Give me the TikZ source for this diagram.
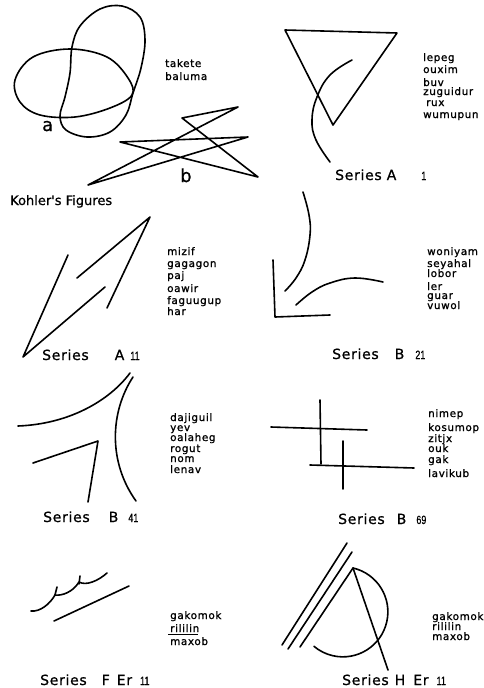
\documentclass[tikz,border=0pt]{standalone}
\usepackage{fontspec}
\setmainfont{DejaVu Sans}
\newfontfamily\gothic{DejaVu Sans}[LetterSpace=5, FakeBold=0.8]
\newfontfamily\gothicw{DejaVu Sans}[LetterSpace=6, FakeBold=1.2]
\newfontfamily\gothicb{DejaVu Sans}[FakeBold=0.8]
\newfontfamily\numf{Liberation Sans}[FakeStretch=0.75, FakeBold=0.8]
\usetikzlibrary{positioning}
\newcommand{\wordfont}{\gothicw\fontsize{10.4}{11}\selectfont}
\newcommand{\labfont}{\gothic\fontsize{14}{16}\selectfont}
\newcommand{\numfont}{\numf\fontsize{12}{13}\selectfont}
\tikzset{
  fig/.style={line width=1.6pt, line join=round, line cap=round},
  word/.style={font=\wordfont, anchor=base west, inner sep=0pt},
  serie/.style={font=\labfont, anchor=base west, inner sep=0pt},
  letra/.style={font=\gothicb\fontsize{18}{20}\selectfont, anchor=base west, inner sep=0pt},
}

\begin{document}
\begin{tikzpicture}[x=1pt, y=-1pt]
  \useasboundingbox (0,0) rectangle (483,688);

  % Kohler: figuras a e b
  \draw[fig] plot[smooth cycle, tension=0.6] coordinates {(15,80) (33,57) (70,49) (107,57) (128,78) (132,95) (110,108) (75,117) (40,115) (20,102)};
  \draw[fig] plot[smooth cycle, tension=0.6] coordinates {(100,9) (122,6) (140,17) (145,40) (141,68) (133,93) (126,115) (110,132) (87,137) (66,130) (60,116) (65,97) (70,73) (72,47) (80,26)};
  \draw[fig] (88,185) -- (238,107) -- (182,118) -- (258,177) -- (120,142) -- (248,137) -- cycle;
  \node[letra] (ka) at (42,131) {a};
  \node[letra] (kb) at (180,182) {b};
  \node[font=\gothicb\fontsize{13}{15}\selectfont, anchor=base west, inner sep=0pt] (kohler) at (10,205) {Kohler's Figures};
  \foreach \w/\y [count=\i] in {takete/67, baluma/80}
    \node[word] (wk-\i) at (165,\y) {\w};

  % Series A 1
  \draw[fig] (285,30) -- (397,33) -- (333,125) -- cycle;
  \draw[fig] plot[smooth, tension=0.7] coordinates {(352,60) (330,75) (317,97) (312,120) (316,140) (330,162)};
  \node[serie] (sA1) at (335,180) {Series\hspace{5pt}A\hspace{25pt}{\numfont 1}};
  \foreach \w/\y [count=\i] in {lepeg/61, ouxim/73, buv/86, zuguidur/95, {\hspace{3pt}rux}/106, wumupun/118}
    \node[word] (wA1-\i) at (423,\y) {\w};

  % Series A 11
  \draw[fig] (68,255) -- (23,357) -- (105,287);
  \draw[fig] (77,278) -- (150,217) -- (107,308);
  \node[serie] (sA11) at (42,360) {Series\hspace{26pt}A\hspace{6pt}{\numfont 11}};
  \foreach \w/\y [count=\i] in {mizif/255, gagagon/267, paj/279, oawir/292, faguugup/304, har/315}
    \node[word] (wA11-\i) at (167,\y) {\w};

  % Series B 21
  \draw[fig] plot[smooth, tension=0.7] coordinates {(303,192) (309,215) (310,235) (305,260) (296,278) (285,291)};
  \draw[fig] plot[smooth, tension=0.7] coordinates {(296,305) (312,292) (330,283) (355,278) (383,282)};
  \draw[fig] (273,260) -- (275,317) -- (330,315);
  \node[serie] (sB21) at (332,359) {Series\hspace{16pt}B\hspace{11pt}{\numfont 21}};
  \foreach \w/\y [count=\i] in {woniyam/255, seyahal/267, lobor/277, ler/290, guar/299, vuwol/309}
    \node[word] (wB21-\i) at (427,\y) {\w};

  % Series B 41
  \draw[fig] (18,426) .. controls (70,424) and (110,400) .. (130,373);
  \draw[fig] (133,377) .. controls (110,412) and (108,462) .. (136,501);
  \draw[fig] (33,463) -- (98,441) -- (88,502);
  \node[serie] (sB41) at (43,522) {Series\hspace{19pt}B\hspace{10pt}{\numfont 41}};
  \foreach \w/\y [count=\i] in {dajiguil/421, yev/431, oalaheg/441, rogut/452, nom/462, lenav/473}
    \node[word] (wB41-\i) at (170,\y) {\w};

  % Series B 69
  \draw[fig] (320,400) -- (321,464);
  \draw[fig] (271,427) -- (367,430);
  \draw[fig] (343,441) -- (343,489);
  \draw[fig] (310,465) -- (414,468);
  \node[serie] (sB69) at (338,524) {Series\hspace{12pt}B\hspace{10pt}{\numfont 69}};
  \foreach \w/\y [count=\i] in {nimep/417, kosumop/431, zitjx/442, ouk/452, gak/463, lavikub/477}
    \node[word] (wB69-\i) at (428,\y) {\w};

  % Series F Er 11
  \draw[fig] (31,611) .. controls (40,612) and (50,604) .. (55,595) .. controls (62,596) and (73,592) .. (79,582) .. controls (86,586) and (98,581) .. (107,573);
  \draw[fig] (55,595) .. controls (56,591) .. (57,587);
  \draw[fig] (79,584) .. controls (79,580) .. (80,576);
  \draw[fig] (54,621) -- (129,586);
  \node[serie] (sF) at (40,685) {Series\hspace{15pt}F\hspace{7pt}Er\hspace{8pt}{\numfont 11}};
  \foreach \w/\y [count=\i] in {gakomok/619, rililin/632, maxob/645}
    \node[word] (wF-\i) at (170,\y) {\w};
  \draw[line width=0.8pt] (wF-2.base west) ++(-2,2.5) -- ++(30,0);

  % Series H Er 11
  \draw[fig] (282,645) -- (347,543);
  \draw[fig] (288,649) -- (352,552);
  \draw[fig] (300,647) -- (353,568);
  \coordinate (hTopo) at (353,568);
  \draw[fig] (hTopo) arc[start angle=77, end angle=-130, radius=45pt];
  \draw[fig] (hTopo) -- (388,670);
  \node[serie] (sH) at (342,685) {Series\hspace{6pt}H\hspace{8pt}Er\hspace{8pt}{\numfont 11}};
  \foreach \w/\y [count=\i] in {gakomok/620, rililin/630, maxob/640}
    \node[word] (wH-\i) at (432,\y) {\w};
\end{tikzpicture}
\end{document}
